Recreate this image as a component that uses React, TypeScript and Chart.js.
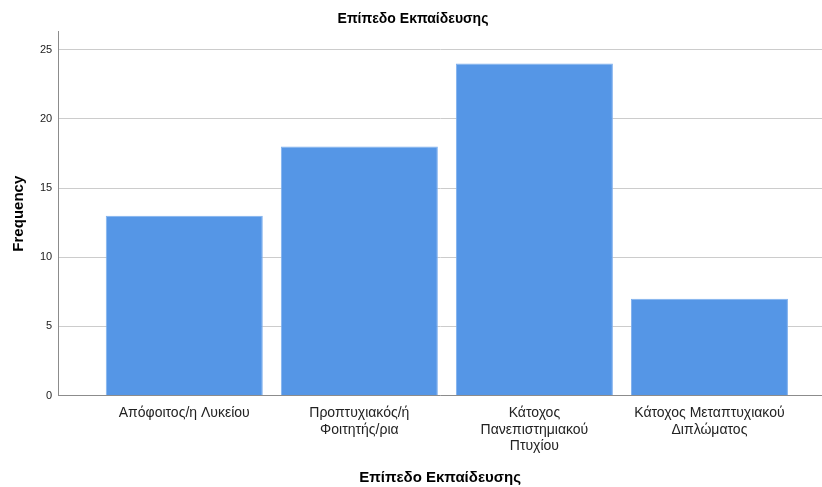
import React, { useEffect, useRef } from "react";
import { Chart, registerables } from "chart.js";

Chart.register(...registerables);

const chartTitle = "Επίπεδο Εκπαίδευσης";
const xAxisTitle = "Επίπεδο Εκπαίδευσης";
const yAxisTitle = "Frequency";
const categories = [
  "Απόφοιτος/η Λυκείου",
  "Προπτυχιακός/ή Φοιτητής/ρια",
  "Κάτοχος Πανεπιστημιακού Πτυχίου",
  "Κάτοχος Μεταπτυχιακού Διπλώματος",
];
const tickLabelLines = [
  ["Απόφοιτος/η Λυκείου"],
  ["Προπτυχιακός/ή", "Φοιτητής/ρια"],
  ["Κάτοχος", "Πανεπιστημιακού", "Πτυχίου"],
  ["Κάτοχος Μεταπτυχιακού", "Διπλώματος"],
];
const frequencies = [13, 18, 24, 7];
const yTicks = [0, 5, 10, 15, 20, 25];

export default function App() {
  const ref = useRef<HTMLCanvasElement | null>(null);
  useEffect(() => {
    if (!ref.current) return;
    const font = "'Liberation Sans', Arial, sans-serif";
    const chart = new Chart(ref.current, {
      type: "bar",
      data: {
        datasets: [
          {
            label: yAxisTitle,
            data: frequencies.map((v, i) => ({ x: i, y: v })),
            backgroundColor: "#5596e6",
            borderColor: "#7fb0ee",
            borderWidth: 1,
            barPercentage: 0.897,
            categoryPercentage: 1,
          },
        ],
      },
      options: {
        animation: false,
        responsive: true,
        maintainAspectRatio: false,
        layout: { padding: { left: 4, right: 0, top: 0, bottom: 0 } },
        plugins: {
          legend: { display: false },
          tooltip: { enabled: false },
          title: {
            display: true,
            text: chartTitle,
            color: "#000",
            font: { family: font, size: 14, weight: "bold" },
            padding: { top: 11, bottom: 4 },
          },
        },
        scales: {
          x: {
            type: "linear",
            offset: false,
            min: -0.72,
            max: 3.643,
            afterBuildTicks: (scale: any) => {
              scale.ticks = categories.map((_, i) => ({ value: i }));
            },
            ticks: {
              autoSkip: false,
              maxRotation: 0,
              color: "#222",
              font: { family: font, size: 14 },
              padding: 9,
              callback: (v: any) => tickLabelLines[v as number] ?? "",
            },
            grid: { display: false, drawTicks: false },
            border: { display: true, color: "#8c8c8c", width: 1 },
            title: {
              display: true,
              text: xAxisTitle,
              color: "#000",
              font: { family: font, size: 15, weight: "bold" },
              padding: { top: 5, bottom: 0 },
            },
          },
          y: {
            min: 0,
            max: 26.3,
            afterBuildTicks: (scale: any) => {
              scale.ticks = yTicks.map((v) => ({ value: v }));
            },
            ticks: {
              color: "#222",
              font: { family: font, size: 11 },
              padding: 6,
            },
            grid: { color: "#cccccc", lineWidth: 1, drawTicks: false },
            border: { display: true, color: "#8c8c8c", width: 1 },
            title: {
              display: true,
              text: yAxisTitle,
              color: "#000",
              font: { family: font, size: 15, weight: "bold" },
              padding: { top: 6, bottom: 6 },
            },
          },
        },
      },
    } as any);
    return () => chart.destroy();
  }, []);
  return (
    <div style={{ position: "absolute", left: 0, top: 0, width: 822, height: 487, background: "#fff" }}>
      <canvas ref={ref} />
    </div>
  );
}
